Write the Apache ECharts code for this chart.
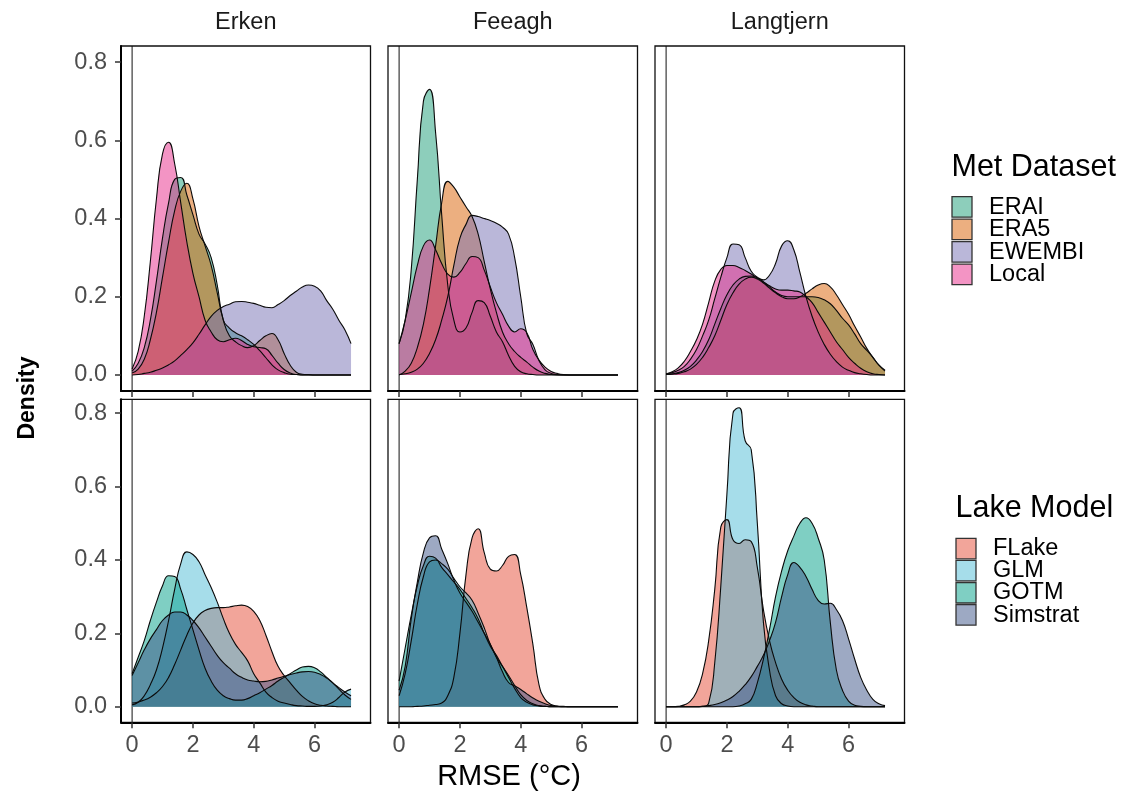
<!DOCTYPE html>
<html><head><meta charset="utf-8">
<script src="https://cdn.jsdelivr.net/npm/echarts@6/dist/echarts.min.js"></script>
<style>html,body{margin:0;padding:0;background:#fff}#c{width:1129px;height:798px}</style>
</head><body><div id="c"></div>
<script>
// ---- data ----
const xGrid = [0,0.2,0.4,0.6,0.8,1,1.2,1.4,1.6,1.8,2,2.2,2.4,2.6,2.8,3,3.2,3.4,3.6,3.8,4,4.2,4.4,4.6,4.8,5,5.2,5.4,5.6,5.8,6,6.2,6.4,6.6,6.8,7,7.2];
const lakes = ['Erken','Feeagh','Langtjern'];
const metNames = ['ERAI','ERA5','EWEMBI','Local'];
const modelNames = ['FLake','GLM','GOTM','Simstrat'];
const metColors = ['#1B9E77','#D95F02','#7570B3','#E7298A'];
const modelColors = ['#E64B35','#4DBBD5','#00A087','#3C5488'];
const xTicks = [0,2,4,6];
const yTicks = [0,0.2,0.4,0.6,0.8];
const xTitle = 'RMSE (°C)';
const yTitle = 'Density';
const metTitle = 'Met Dataset';
const modelTitle = 'Lake Model';

// Met Dataset densities
const erkenERAI = [0.01,0.03,0.07,0.14,0.24,0.35,0.44,0.5,0.505,0.46,0.41,0.36,0.335,0.3,0.23,0.14,0.12,0.108,0.1,0.09,0.078,0.062,0.044,0.026,0.013,0.006,0.002,0.001,0,0,0,0,0,0,0,0,0];
const erkenERA5 = [0.005,0.015,0.04,0.09,0.16,0.25,0.34,0.42,0.47,0.49,0.45,0.38,0.33,0.28,0.21,0.14,0.1,0.085,0.075,0.07,0.075,0.088,0.1,0.106,0.09,0.055,0.025,0.007,0.002,0.001,0,0,0,0,0,0,0];
const erkenEWEMBI = [0,0.001,0.004,0.007,0.012,0.018,0.026,0.036,0.05,0.065,0.082,0.104,0.128,0.15,0.165,0.175,0.181,0.187,0.188,0.186,0.183,0.178,0.173,0.172,0.18,0.19,0.203,0.214,0.225,0.23,0.227,0.215,0.19,0.168,0.14,0.115,0.08];
const erkenLocal = [0.015,0.06,0.15,0.29,0.45,0.565,0.595,0.54,0.44,0.34,0.26,0.2,0.14,0.11,0.09,0.085,0.09,0.094,0.088,0.078,0.072,0.07,0.067,0.05,0.03,0.014,0.005,0.001,0,0,0,0,0,0,0,0,0];
const feeaghERAI = [0.08,0.14,0.27,0.5,0.7,0.73,0.62,0.41,0.23,0.14,0.11,0.12,0.16,0.19,0.185,0.15,0.11,0.085,0.05,0.022,0.008,0.003,0.001,0,0,0,0,0,0,0,0,0,0,0,0,0,0];
const feeaghERA5 = [0,0.01,0.03,0.07,0.13,0.22,0.33,0.44,0.495,0.48,0.455,0.43,0.405,0.36,0.29,0.22,0.16,0.11,0.08,0.06,0.045,0.033,0.02,0.01,0.004,0.001,0,0,0,0,0,0,0,0,0,0,0];
const feeaghEWEMBI = [0.001,0.003,0.007,0.015,0.03,0.055,0.09,0.14,0.2,0.28,0.35,0.385,0.408,0.405,0.4,0.395,0.388,0.378,0.36,0.3,0.2,0.105,0.078,0.037,0.013,0.004,0.001,0,0,0,0,0,0,0,0,0,0];
const feeaghLocal = [0.08,0.14,0.21,0.28,0.33,0.345,0.32,0.285,0.258,0.25,0.262,0.285,0.303,0.3,0.268,0.225,0.185,0.155,0.125,0.11,0.118,0.108,0.065,0.038,0.02,0.009,0.004,0.001,0,0,0,0,0,0,0,0,0];
const langERAI = [0.001,0.003,0.006,0.012,0.022,0.038,0.06,0.09,0.13,0.17,0.205,0.23,0.245,0.252,0.253,0.248,0.238,0.225,0.212,0.203,0.2,0.2,0.2,0.2,0.2,0.198,0.192,0.182,0.165,0.145,0.128,0.105,0.08,0.063,0.045,0.025,0.01];
const langERA5 = [0.001,0.002,0.004,0.008,0.015,0.027,0.045,0.07,0.1,0.14,0.18,0.21,0.232,0.245,0.25,0.245,0.235,0.222,0.21,0.2,0.195,0.195,0.2,0.209,0.22,0.23,0.234,0.225,0.205,0.18,0.155,0.125,0.097,0.068,0.045,0.025,0.012];
const langEWEMBI = [0.003,0.006,0.012,0.022,0.04,0.065,0.1,0.14,0.195,0.25,0.3,0.335,0.333,0.3,0.265,0.25,0.243,0.255,0.285,0.33,0.343,0.32,0.262,0.2,0.15,0.11,0.078,0.053,0.034,0.02,0.012,0.006,0.003,0.001,0,0,0];
const langLocal = [0.003,0.008,0.018,0.035,0.06,0.09,0.13,0.185,0.24,0.27,0.28,0.28,0.275,0.267,0.258,0.248,0.238,0.228,0.22,0.217,0.217,0.215,0.212,0.2,0.185,0.16,0.135,0.11,0.085,0.065,0.045,0.03,0.017,0.008,0.003,0.001,0];

// Lake Model densities
const erkenFLake = [0.01,0.013,0.018,0.026,0.038,0.055,0.08,0.115,0.155,0.195,0.228,0.25,0.262,0.268,0.27,0.27,0.272,0.275,0.277,0.273,0.26,0.235,0.195,0.15,0.11,0.085,0.065,0.045,0.028,0.016,0.008,0.004,0.002,0.001,0,0,0];
const erkenGLM = [0.005,0.012,0.03,0.06,0.1,0.16,0.235,0.32,0.39,0.422,0.415,0.395,0.36,0.325,0.285,0.24,0.2,0.17,0.148,0.125,0.09,0.065,0.04,0.025,0.015,0.01,0.006,0.003,0.002,0.001,0.001,0.002,0.005,0.012,0.025,0.04,0.048];
const erkenGOTM = [0.09,0.135,0.18,0.235,0.285,0.33,0.357,0.355,0.32,0.265,0.21,0.155,0.105,0.07,0.045,0.03,0.022,0.018,0.018,0.022,0.03,0.038,0.048,0.058,0.07,0.08,0.09,0.1,0.108,0.11,0.106,0.095,0.08,0.065,0.048,0.032,0.02];
const erkenSimstrat = [0.085,0.12,0.155,0.185,0.21,0.235,0.25,0.258,0.258,0.25,0.235,0.215,0.19,0.165,0.14,0.12,0.105,0.09,0.08,0.073,0.07,0.068,0.069,0.073,0.078,0.083,0.088,0.092,0.095,0.096,0.094,0.088,0.078,0.065,0.052,0.04,0.03];
const feeaghFLake = [0,0,0,0.001,0.002,0.004,0.006,0.01,0.03,0.08,0.2,0.36,0.46,0.485,0.42,0.375,0.37,0.385,0.41,0.415,0.36,0.27,0.17,0.06,0.02,0.006,0.002,0.001,0,0,0,0,0,0,0,0,0];
const feeaghGLM = [0.03,0.09,0.18,0.28,0.355,0.395,0.4,0.39,0.375,0.35,0.327,0.31,0.29,0.255,0.215,0.17,0.135,0.11,0.085,0.058,0.033,0.017,0.008,0.003,0.001,0,0,0,0,0,0,0,0,0,0,0,0];
const feeaghGOTM = [0.07,0.16,0.25,0.33,0.385,0.41,0.405,0.38,0.36,0.34,0.32,0.295,0.27,0.24,0.2,0.165,0.14,0.11,0.08,0.05,0.025,0.012,0.005,0.002,0.001,0,0,0,0,0,0,0,0,0,0,0,0];
const feeaghSimstrat = [0.045,0.11,0.24,0.34,0.42,0.46,0.466,0.43,0.39,0.345,0.31,0.285,0.26,0.23,0.2,0.17,0.135,0.095,0.066,0.057,0.047,0.035,0.024,0.015,0.008,0.003,0.001,0,0,0,0,0,0,0,0,0,0];
const langFLake = [0,0,0.001,0.005,0.015,0.04,0.09,0.18,0.32,0.49,0.51,0.455,0.445,0.455,0.45,0.38,0.265,0.18,0.12,0.075,0.045,0.025,0.012,0.005,0.002,0,0,0,0,0,0,0,0,0,0,0,0];
const langGLM = [0,0,0,0,0,0,0.001,0.01,0.12,0.33,0.58,0.8,0.815,0.725,0.7,0.5,0.23,0.1,0.03,0.008,0.002,0,0,0,0,0,0,0,0,0,0,0,0,0,0,0,0];
const langGOTM = [0,0,0,0,0,0,0,0,0,0,0,0,0.002,0.008,0.02,0.065,0.13,0.21,0.3,0.37,0.425,0.465,0.5,0.515,0.5,0.46,0.4,0.23,0.1,0.045,0.015,0.004,0.001,0,0,0,0];
const langSimstrat = [0,0,0,0,0,0,0.001,0.003,0.006,0.011,0.018,0.028,0.042,0.06,0.082,0.11,0.14,0.18,0.23,0.3,0.36,0.393,0.38,0.355,0.32,0.29,0.28,0.282,0.265,0.235,0.185,0.13,0.08,0.045,0.02,0.008,0.003];

// ---- assembly ----
const rows = [
  { names: metNames, colors: metColors, sets: [
      [erkenERAI, erkenERA5, erkenEWEMBI, erkenLocal],
      [feeaghERAI, feeaghERA5, feeaghEWEMBI, feeaghLocal],
      [langERAI, langERA5, langEWEMBI, langLocal]] },
  { names: modelNames, colors: modelColors, sets: [
      [erkenFLake, erkenGLM, erkenGOTM, erkenSimstrat],
      [feeaghFLake, feeaghGLM, feeaghGOTM, feeaghSimstrat],
      [langFLake, langGLM, langGOTM, langSimstrat]] }
];

const FONT = '"Liberation Sans", Arial, Helvetica, sans-serif';
const colLeft = [121, 388, 655];
const colW = 249.5;
const rowTop = [46, 399.3];
const rowH = [345, 323];
const yMin = [-0.041, -0.0425];
const yMax = [0.841, 0.838];
const xMin = -0.365, xMax = 7.84;

function rgba(hex, a) {
  const n = parseInt(hex.slice(1), 16);
  return 'rgba(' + ((n >> 16) & 255) + ',' + ((n >> 8) & 255) + ',' + (n & 255) + ',' + a + ')';
}

const grids = [], xAxes = [], yAxes = [], series = [];
for (let r = 0; r < 2; r++) {
  for (let c = 0; c < 3; c++) {
    const i = r * 3 + c;
    grids.push({ left: colLeft[c], top: rowTop[r], width: colW, height: rowH[r],
      show: true, borderColor: '#111', borderWidth: 1.3, backgroundColor: 'rgba(0,0,0,0)' });
    xAxes.push({ type: 'value', gridIndex: i, min: xMin, max: xMax,
      axisLine: { show: true, onZero: false, lineStyle: { color: '#000', width: 2 } },
      axisTick: { show: true, length: 6, customValues: xTicks, lineStyle: { color: '#333', width: 1.5 } },
      axisLabel: { show: r === 1, customValues: xTicks, fontSize: 23.5, color: '#4d4d4d', margin: 11, fontFamily: FONT,
        formatter: v => String(v) },
      splitLine: { show: false } });
    yAxes.push({ type: 'value', gridIndex: i, min: yMin[r], max: yMax[r],
      axisLine: { show: c === 0, onZero: false, lineStyle: { color: '#000', width: 2 } },
      axisTick: { show: c === 0, length: 6, customValues: yTicks, lineStyle: { color: '#333', width: 1.5 } },
      axisLabel: { show: c === 0, customValues: yTicks, fontSize: 23.5, color: '#4d4d4d', margin: 14, fontFamily: FONT,
        formatter: v => v.toFixed(1) },
      splitLine: { show: false } });
    // vertical reference line at x = 0
    series.push({ type: 'line', xAxisIndex: i, yAxisIndex: i, silent: true, symbol: 'none',
      data: [[0, yMin[r]], [0, yMax[r]]], lineStyle: { color: '#111', width: 1 }, z: 1 });
    const grp = rows[r];
    grp.sets[c].forEach((vals, g) => {
      series.push({ type: 'line', name: grp.names[g], xAxisIndex: i, yAxisIndex: i, silent: true,
        data: xGrid.map((x, k) => [x, vals[k]]), smooth: 0.5, symbol: 'none', showSymbol: false,
        lineStyle: { color: '#0a0a0a', width: 1.1 },
        areaStyle: { color: rgba(grp.colors[g], 0.5), opacity: 1 }, z: 2 });
    });
  }
}

// ---- text & legends (graphic) ----
const graphics = [];
function txt(x, y, s, size, opts) {
  opts = opts || {};
  return Object.assign({ type: 'text', x: x, y: y, silent: true,
    style: { text: s, fontSize: size, fontFamily: FONT, fontWeight: opts.weight || 'normal', fill: opts.fill || '#1a1a1a',
      textAlign: opts.align || 'left', textVerticalAlign: 'middle', align: opts.align || 'left', verticalAlign: 'middle' } },
    opts.rotation ? { rotation: opts.rotation } : {});
}
lakes.forEach((name, c) => graphics.push(txt(colLeft[c] + colW / 2, 23, name, 23.5, { align: 'center' })));
graphics.push(txt(509, 777, xTitle, 29, { align: 'center', fill: '#000' }));
graphics.push(txt(28, 398, yTitle, 23, { align: 'center', weight: 'bold', fill: '#000', rotation: Math.PI / 2 }));

function legend(title, names, colors, x0, titleY, boxY0, pitch, labelX) {
  graphics.push(txt(x0, titleY, title, 30.5, { fill: '#000' }));
  names.forEach((n, k) => {
    const y = boxY0 + k * pitch;
    graphics.push({ type: 'rect', silent: true, shape: { x: x0 + 0.5, y: y, width: 20, height: 20.5 },
      style: { fill: rgba(colors[k], 0.5), stroke: '#333', lineWidth: 1.3 } });
    graphics.push(txt(labelX, y + 10.5, n, 23.5, { fill: '#000' }));
  });
}
legend(metTitle, metNames, metColors, 951.5, 168, 196.7, 22.5, 989);
legend(modelTitle, modelNames, modelColors, 955.5, 509, 538.3, 22.1, 993);

const chart = echarts.init(document.getElementById('c'), null, { renderer: 'canvas' });
chart.setOption({
  animation: false,
  backgroundColor: '#fff',
  textStyle: { fontFamily: FONT },
  grid: grids, xAxis: xAxes, yAxis: yAxes, series: series,
  graphic: { elements: graphics }
});
</script></body></html>
